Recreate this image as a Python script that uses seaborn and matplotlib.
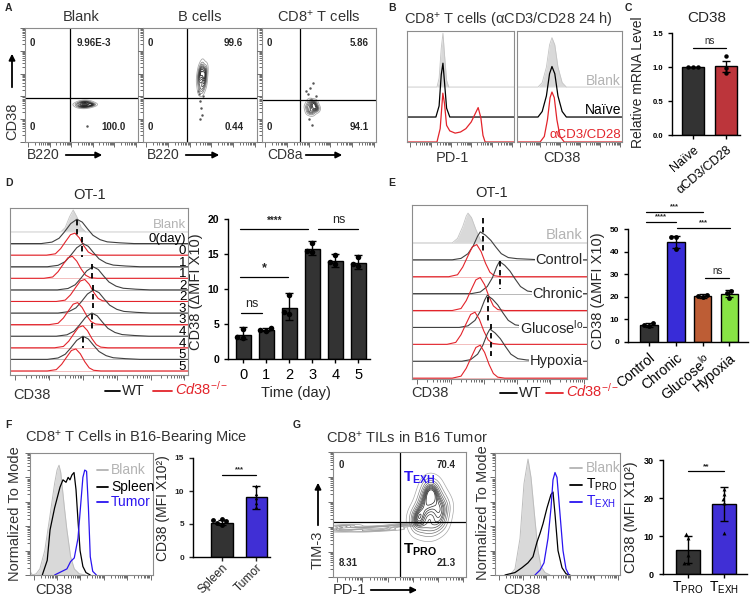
import matplotlib
matplotlib.use("Agg")
import matplotlib.pyplot as plt
from matplotlib.patches import FancyArrowPatch
from matplotlib.lines import Line2D
import numpy as np
import pandas as pd
import seaborn as sns

# ---------------- values ----------------
# A: flow contour plots (units = fraction of each plot)
a_titles = ["Blank", "B cells", "CD8$^{+}$ T cells"]
a_xnames = ["B220", "B220", "CD8a"]
a_quad_top = ["9.96E-3", "99.6", "5.86"]
a_quad_bottom = ["100.0", "0.44", "94.1"]
a_gate_x = [0.40, 0.39, 0.33]
a_gate_y = [0.39, 0.39, 0.37]
a_blob_x = [[0.47, 0.50, 0.53, 0.56, 0.59, 0.49, 0.52, 0.55, 0.58],
            [0.50, 0.52, 0.54, 0.49, 0.51, 0.53, 0.55, 0.52, 0.50, 0.54],
            [0.40, 0.44, 0.48, 0.42, 0.46, 0.44, 0.41, 0.47, 0.45]]
a_blob_y = [[0.33, 0.345, 0.35, 0.345, 0.33, 0.315, 0.31, 0.315, 0.325],
            [0.48, 0.47, 0.52, 0.55, 0.58, 0.60, 0.63, 0.66, 0.62, 0.57],
            [0.31, 0.30, 0.29, 0.35, 0.34, 0.26, 0.27, 0.30, 0.33]]
a_dot_x = [[0.55], [0.49, 0.50, 0.51, 0.52, 0.50, 0.53, 0.48],
           [0.40, 0.42, 0.45, 0.43, 0.47, 0.41, 0.44, 0.39]]
a_dot_y = [[0.14], [0.42, 0.36, 0.30, 0.24, 0.20, 0.40, 0.45],
           [0.42, 0.47, 0.52, 0.38, 0.40, 0.20, 0.15, 0.45]]

# B: histograms (rows: Blank, Naive, aCD3/CD28)
b_labels = ["Blank", "Naïve", "αCD3/CD28"]
b_base = [0.495, 0.225, 0.0]
b1_x = [[0.28, 0.30, 0.32, 0.336, 0.35, 0.37, 0.39],
        [0.27, 0.30, 0.32, 0.336, 0.35, 0.37, 0.40],
        [0.28, 0.31, 0.335, 0.35, 0.37, 0.40, 0.45, 0.50, 0.55, 0.60, 0.64, 0.665, 0.69, 0.71, 0.73]]
b1_y = [[0, 0.08, 0.35, 0.485, 0.30, 0.06, 0],
        [0, 0.10, 0.38, 0.485, 0.32, 0.08, 0],
        [0, 0.12, 0.44, 0.35, 0.15, 0.10, 0.08, 0.09, 0.12, 0.18, 0.26, 0.31, 0.22, 0.06, 0]]
b2_x = [[0.20, 0.24, 0.28, 0.31, 0.333, 0.36, 0.39, 0.43, 0.47],
        [0.20, 0.24, 0.28, 0.31, 0.333, 0.36, 0.39, 0.43, 0.47],
        [0.22, 0.26, 0.29, 0.315, 0.333, 0.355, 0.38, 0.41, 0.45]]
b2_y = [[0, 0.04, 0.18, 0.38, 0.445, 0.38, 0.18, 0.04, 0],
        [0, 0.05, 0.19, 0.39, 0.455, 0.39, 0.19, 0.05, 0],
        [0, 0.05, 0.20, 0.40, 0.45, 0.40, 0.20, 0.05, 0]]

# C: relative mRNA
c_cats = ["Naïve", "αCD3/CD28"]
c_means = [1.0, 1.01]
c_lo = [0.995, 0.93]
c_hi = [1.005, 1.09]
c_pts = [[1.0, 1.0, 1.0], [1.16, 0.99, 0.91]]

# D: OT-1 time course histograms (row 0 = Blank, then WT/KO per day)
d_row_labels = ["Blank", "0(day)", "0", "1", "1", "2", "2", "3", "3", "4", "4", "5", "5"]
d_peak = [0.355, 0.376, 0.365, 0.41, 0.35, 0.466, 0.42, 0.47, 0.38, 0.46, 0.41, 0.41, 0.37]
d_height = [1.9, 2.1, 1.9, 2.0, 1.9, 2.0, 1.9, 2.0, 1.9, 2.0, 1.9, 2.0, 1.9]
d_dash_x = [0.376, 0.405, 0.46, 0.466, 0.46, 0.41]
d_dash_top = [-1.0, 0.4, 2.8, 4.6, 7.1, 9.1]
d_dash_bot = [0.4, 2.2, 4.1, 6.6, 8.6, 10.0]
wt_off = [-0.20, -0.14, -0.10, -0.07, -0.035, 0.0, 0.03, 0.06, 0.09, 0.13, 0.17, 0.24, 0.32]
wt_shape = [0.0, 0.06, 0.22, 0.48, 0.82, 1.0, 0.88, 0.60, 0.34, 0.16, 0.07, 0.03, 0.0]
ko_off = [-0.16, -0.11, -0.08, -0.05, -0.025, 0.0, 0.025, 0.05, 0.075, 0.10, 0.14]
ko_shape = [0.0, 0.06, 0.30, 0.65, 0.93, 1.0, 0.78, 0.42, 0.14, 0.03, 0.0]
blank_off = [-0.07, -0.045, -0.02, 0.0, 0.02, 0.045, 0.07]
blank_shape = [0.0, 0.2, 0.7, 1.0, 0.7, 0.2, 0.0]

# D: bars
d_days = ["0", "1", "2", "3", "4", "5"]
d_means = [3.5, 4.2, 7.3, 15.7, 14.0, 13.7]
d_lo = [2.8, 4.0, 5.6, 14.8, 13.2, 12.9]
d_hi = [4.6, 4.5, 9.4, 16.9, 15.0, 14.8]
d_pts = [[4.3, 3.2, 3.0], [4.4, 4.2, 4.0], [9.2, 6.7, 6.4],
         [16.6, 15.5, 15.3], [14.8, 13.8, 13.6], [14.6, 13.6, 13.3]]
d_sigs = [(-0.1, 0.83, 6.6, "ns"), (-0.13, 1.96, 11.7, "*"),
          (-0.13, 2.83, 18.6, "****"), (3.26, 5.0, 18.6, "ns")]

# E: conditions histograms
e_labels = ["Control", "Chronic", "Glucose$^{lo}$", "Hypoxia"]
e_blank_peak = 0.32
e_blank_h = 1.76
e_wt_peak = [0.39, 0.50, 0.43, 0.445]
e_wt_h = [1.65, 1.9, 1.9, 1.9]
e_ko_peak = [0.37, 0.39, 0.36, 0.39]
e_ko_h = [1.9, 1.95, 1.9, 1.95]
e_dash_x = [0.405, 0.50, 0.435, 0.45]
e_dash_top = [-1.47, 1.1, 3.2, 4.8]
e_dash_bot = [0.53, 2.7, 4.7, 6.7]
ewt_off = [-0.16, -0.11, -0.07, -0.04, -0.015, 0.0, 0.03, 0.06, 0.09, 0.12, 0.16, 0.21, 0.28, 0.34]
ewt_shape = [0.0, 0.05, 0.22, 0.50, 0.85, 1.0, 0.88, 0.70, 0.45, 0.22, 0.08, 0.04, 0.02, 0.0]
eblank_off = [-0.09, -0.06, -0.03, -0.01, 0.0, 0.02, 0.045, 0.07, 0.09]
eblank_shape = [0.0, 0.15, 0.55, 0.9, 1.0, 0.85, 0.45, 0.12, 0.0]

# E: bars
e_means = [7.5, 44.3, 20.3, 21.2]
e_lo = [6.8, 41.5, 19.5, 19.7]
e_hi = [8.2, 47.0, 21.1, 22.8]
e_pts = [[8.5, 7.6, 7.2], [46.6, 46.3, 41.0], [21.0, 20.4, 20.0], [22.5, 21.5, 19.6]]
e_sigs = [(-0.1, 1.0, 53.0, "****"), (-0.1, 2.0, 57.5, "***"),
          (1.05, 3.03, 50.5, "***"), (2.1, 3.0, 28.5, "ns")]

# F: histogram + bars
f_blank_x = [0.0, 0.02, 0.05, 0.08, 0.12, 0.16, 0.20, 0.22, 0.236, 0.25, 0.28, 0.30, 0.33, 0.36, 0.40, 0.45]
f_blank_y = [0.03, 0.0, 0.01, 0.05, 0.20, 0.47, 0.75, 0.86, 0.90, 0.84, 0.55, 0.37, 0.15, 0.05, 0.01, 0.0]
f_spleen_x = [0.10, 0.14, 0.163, 0.20, 0.244, 0.268, 0.293, 0.31, 0.325, 0.341, 0.358, 0.374, 0.39, 0.407, 0.43, 0.455, 0.49]
f_spleen_y = [0.0, 0.12, 0.37, 0.55, 0.72, 0.78, 0.76, 0.80, 0.78, 0.82, 0.84, 0.70, 0.45, 0.20, 0.07, 0.02, 0.0]
f_tumor_x = [0.20, 0.30, 0.33, 0.36, 0.39, 0.41, 0.43, 0.445, 0.46, 0.475, 0.49, 0.51, 0.54]
f_tumor_y = [0.0, 0.05, 0.11, 0.14, 0.30, 0.55, 0.80, 0.86, 0.85, 0.55, 0.15, 0.03, 0.0]
f_cats = ["Spleen", "Tumor"]
f_means = [5.2, 9.1]
f_lo = [4.8, 7.3]
f_hi = [5.6, 10.7]
f_spleen_pts = [5.6, 5.4, 5.1, 5.8, 4.9]
f_tumor_pts = [10.7, 9.6, 8.9, 8.2, 7.6]

# G: contour, histogram, bars
g_blob_x = [0.64, 0.70, 0.76, 0.82, 0.66, 0.72, 0.78, 0.84, 0.68, 0.74, 0.80, 0.71, 0.76, 0.62]
g_blob_y = [0.42, 0.40, 0.40, 0.44, 0.52, 0.54, 0.52, 0.55, 0.62, 0.64, 0.62, 0.72, 0.70, 0.48]
g_tail_x = [0.04, 0.06, 0.09, 0.12, 0.09, 0.18, 0.26, 0.34, 0.42, 0.50, 0.56, 0.30, 0.40]
g_tail_y = [0.38, 0.40, 0.37, 0.39, 0.41, 0.39, 0.37, 0.40, 0.38, 0.41, 0.42, 0.385, 0.395]
g_blank_x = [0.12, 0.16, 0.20, 0.232, 0.264, 0.288, 0.32, 0.344, 0.368, 0.40, 0.44]
g_blank_y = [0.0, 0.05, 0.30, 0.75, 0.95, 0.80, 0.45, 0.20, 0.07, 0.02, 0.0]
g_pro_x = [0.08, 0.16, 0.216, 0.264, 0.304, 0.336, 0.36, 0.384, 0.416, 0.448, 0.464, 0.48, 0.504, 0.536, 0.568, 0.60]
g_pro_y = [0.0, 0.02, 0.06, 0.10, 0.15, 0.27, 0.34, 0.42, 0.55, 0.66, 0.68, 0.50, 0.20, 0.06, 0.01, 0.0]
g_exh_x = [0.32, 0.36, 0.392, 0.424, 0.448, 0.464, 0.48, 0.496, 0.52, 0.544, 0.568, 0.592]
g_exh_y = [0.0, 0.04, 0.10, 0.30, 0.55, 0.78, 0.84, 0.80, 0.50, 0.20, 0.05, 0.0]
g_cats = ["T$_{PRO}$", "T$_{EXH}$"]
g_means = [6.4, 18.4]
g_lo = [3.0, 14.0]
g_hi = [10.0, 22.8]
g_pts = [[10.5, 9.6, 5.0, 3.0, 3.0], [22.5, 19.8, 18.8, 10.8, 21.0]]

# ---------------- style ----------------
sns.set_theme(style="white")
plt.rcParams["font.family"] = ["Liberation Sans", "DejaVu Sans"]
plt.rcParams["mathtext.fontset"] = "custom"
plt.rcParams["mathtext.rm"] = "Liberation Sans"
plt.rcParams["mathtext.it"] = "Liberation Sans:italic"
plt.rcParams["mathtext.bf"] = "Liberation Sans:bold"
plt.rcParams["mathtext.default"] = "regular"

GRAY_FILL = "#d9d9d9"
RED = "#e3242b"
BLUE = "#2a14f0"
DARK = "#333333"
KO_LABEL = r"$\mathit{Cd38}^{\mathit{-/-}}$"

W, H = 750, 596
fig = plt.figure(figsize=(7.5, 5.96), dpi=100)


def place(x0, y0, x1, y1):
    return fig.add_axes([x0 / W, 1 - y1 / H, (x1 - x0) / W, (y1 - y0) / H])


def put(x, y, s, **kw):
    fig.text(x / W, 1 - y / H, s, **kw)


def fline(x0, x1, y, color):
    fig.add_artist(Line2D([x0 / W, x1 / W], [1 - y / H, 1 - y / H], color=color, lw=1.3))


def farrow(x0, y0, x1, y1):
    fig.add_artist(FancyArrowPatch((x0 / W, 1 - y0 / H), (x1 / W, 1 - y1 / H),
                                   transform=fig.transFigure, arrowstyle="-|>",
                                   mutation_scale=9, lw=1.3, color="black"))


def flow_box(ax, left=False):
    ax.set_xlim(0, 1)
    for s in ax.spines.values():
        s.set_color("#8c8c8c")
        s.set_linewidth(0.8)
    major = list(np.arange(0.03, 1.0, 0.19))
    minor = [m + 0.19 * np.log10(k) for m in major for k in range(2, 10) if m + 0.19 * np.log10(k) < 1]
    ax.set_xticks(major)
    ax.set_xticks(minor, minor=True)
    ax.tick_params(axis="x", which="both", bottom=True, direction="out", length=2,
                   width=0.6, colors="#555555", labelbottom=False)
    ax.tick_params(axis="x", which="major", length=3.5)
    if left:
        lo, hi = ax.get_ylim()
        ax.set_yticks(list(np.linspace(lo, hi, 6)))
        ax.set_yticks([lo + (hi - lo) * (m / 5 + 0.2 * np.log10(k)) for m in range(5) for k in range(2, 10)], minor=True)
        ax.tick_params(axis="y", which="both", left=True, direction="out", length=2,
                       width=0.6, colors="#555555", labelleft=False)
        ax.tick_params(axis="y", which="major", length=3.5)
    else:
        ax.set_yticks([])
    ax.set_xlabel("")
    ax.set_ylabel("")


def bars(ax, cats, means, lo, hi, pts, colors, marker="o", msize=3.5):
    sns.barplot(x=cats, y=means, hue=cats, palette=colors, legend=False, width=0.65,
                edgecolor="black", linewidth=1.0, errorbar=None, ax=ax)
    xs = np.arange(len(cats))
    m = np.array(means)
    ax.errorbar(xs, m, yerr=[m - np.array(lo), np.array(hi) - m], fmt="none",
                ecolor="black", elinewidth=1.0, capsize=3, capthick=1.0, zorder=4)
    long = pd.DataFrame({"cat": [c for c, p in zip(cats, pts) for _ in p],
                         "val": [v for p in pts for v in p]})
    sns.swarmplot(data=long, x="cat", y="val", order=cats, color="black",
                  marker=marker, size=msize, ax=ax, zorder=5)
    ax.set_xlabel("")
    ax.set_ylabel("")
    for s in ["top", "right"]:
        ax.spines[s].set_visible(False)
    for s in ["left", "bottom"]:
        ax.spines[s].set_color("black")
        ax.spines[s].set_linewidth(1.0)
    ax.tick_params(axis="both", which="major", direction="out", length=3, width=1,
                   left=True, bottom=True, colors="black")


def sig(ax, x0, x1, y, txt, fs, dy):
    ax.plot([x0, x1], [y, y], color="black", lw=0.9, clip_on=False)
    ax.text((x0 + x1) / 2, y + dy, txt, ha="center", va="bottom", fontsize=fs,
            fontweight="bold" if "*" in txt else "normal", clip_on=False)


def ridge(ax, peak, h, row, off, shape, color, fill=False, base_color=None):
    xs = [0.0] + [peak + o for o in off] + [1.0]
    ys = [row] + [row - h * s for s in shape] + [row]
    if fill:
        ax.fill_between(xs, ys, row, color=GRAY_FILL, lw=0)
        ax.plot(xs, ys, color="#c4c4c4", lw=0.6)
    else:
        ax.plot([0, 1], [row, row], color=base_color, lw=0.7)
        sns.lineplot(x=xs, y=ys, color=color, lw=0.8, ax=ax, sort=False, estimator=None)


# ---------------- panel A ----------------
a_boxes = [(25, 28, 138, 142), (143, 28, 257, 142), (262, 28, 376, 142)]
a_top_r = [0.76, 0.88, 0.94]
a_bot_r = [0.89, 0.88, 0.94]
cont_cmap = sns.blend_palette(["#a8a8a8", "#111111"], as_cmap=True)
for i, box in enumerate(a_boxes):
    ax = place(*box)
    sns.kdeplot(x=a_blob_x[i], y=a_blob_y[i], levels=9, thresh=0.06, cmap=cont_cmap,
                linewidths=0.6, ax=ax)
    ax.scatter(a_dot_x[i], a_dot_y[i], s=0.6, color="#555555")
    ax.axvline(a_gate_x[i], color="black", lw=0.9)
    ax.axhline(a_gate_y[i], color="black", lw=0.9)
    ax.set_ylim(0, 1)
    flow_box(ax, left=True)
    ax.text(0.04, 0.87, "0", fontsize=7, fontweight="bold", va="center")
    ax.text(0.04, 0.13, "0", fontsize=7, fontweight="bold", va="center")
    ax.text(a_top_r[i], 0.87, a_quad_top[i], fontsize=7, fontweight="bold", va="center", ha="right")
    ax.text(a_bot_r[i], 0.13, a_quad_bottom[i], fontsize=7, fontweight="bold", va="center", ha="right")
    put((box[0] + box[2]) / 2, 17, a_titles[i], ha="center", va="center", fontsize=10.5, color="#333333")
a_xname_pos = [(27, 63, 105), (147, 183, 222), (267, 303, 345)]
for i, (tx, ax0, ax1) in enumerate(a_xname_pos):
    put(tx, 155, a_xnames[i], ha="left", va="center", fontsize=10, color="#333333")
    farrow(ax0, 155, ax1, 155)
put(12, 121, "CD38", rotation=90, ha="center", va="center", fontsize=10.5, color="#333333")
farrow(12, 90, 12, 51)

# ---------------- panel B ----------------
for j, (box, xs_l, ys_l, xlab) in enumerate([((407, 31, 514, 142), b1_x, b1_y, "PD-1"),
                                              ((517, 31, 622, 142), b2_x, b2_y, "CD38")]):
    ax = place(*box)
    ax.set_ylim(0, 1)
    for k in range(3):
        xs = [0.0] + xs_l[k] + [1.0]
        ys = [b_base[k]] + [b_base[k] + v for v in ys_l[k]] + [b_base[k]]
        if k == 0:
            ax.fill_between(xs, ys, b_base[k], color=GRAY_FILL, lw=0)
            ax.plot(xs, ys, color="#c4c4c4", lw=0.6)
        else:
            sns.lineplot(x=xs, y=ys, color=["black", RED][k - 1], lw=0.9, ax=ax,
                         sort=False, estimator=None)
    flow_box(ax)
    put((box[0] + box[2]) / 2 - 8, 158, xlab, ha="center", va="center", fontsize=10.5, color="#333333")
    if j == 1:
        for k, (lab, col, yy) in enumerate(zip(b_labels, ["#b3b3b3", "black", RED], [0.55, 0.29, 0.06])):
            ax.text(0.99, yy, lab, ha="right", va="center", fontsize=10 if k < 2 else 9.5, color=col)
put(508, 20, "CD8$^{+}$ T cells (αCD3/CD28 24 h)", ha="center", va="center", fontsize=10.5, color="#333333")

# ---------------- panel C ----------------
ax = place(672, 33, 740, 135)
bars(ax, c_cats, c_means, c_lo, c_hi, c_pts, [DARK, "#d21f26"], msize=3.2)
ax.set_xlim(-0.64, 1.42)
ax.set_ylim(0, 1.5)
ax.set_yticks([0, 0.5, 1.0, 1.5], ["0.0", "0.5", "1.0", "1.5"], fontsize=5.5, fontweight="bold")
ax.set_xticks([0, 1], c_cats, rotation=40, ha="right", rotation_mode="anchor", fontsize=9)
sig(ax, 0, 1, 1.28, "ns", 7, 0.03)
ax.set_ylabel("Relative mRNA Level", fontsize=10)
ax.yaxis.set_label_coords((645 - 672) / 68, (135 - 82) / 102)
put(707, 18, "CD38", ha="center", va="center", fontsize=11)

# ---------------- panel D ----------------
ax = place(10, 208, 188, 375)
ax.set_ylim(12.35, -2.07)
ridge(ax, d_peak[0], d_height[0], 0, blank_off, blank_shape, None, fill=True)
for r in range(1, 13):
    if r % 2 == 1:
        ridge(ax, d_peak[r], d_height[r], r, wt_off, wt_shape, "#404040", base_color="#b8b8b8")
    else:
        ridge(ax, d_peak[r], d_height[r], r, ko_off, ko_shape, RED, base_color="#f3bcbc")
for x, y0, y1 in zip(d_dash_x, d_dash_top, d_dash_bot):
    ax.plot([x, x], [y0, y1], color="black", lw=1.3, ls=(0, (3, 2)))
for r, lab in enumerate(d_row_labels):
    ax.text(0.99, r - (0.35 if r == 0 else 0.1), lab, ha="right", va="baseline",
            fontsize=9.5, color="#b3b3b3" if r == 0 else "black")
flow_box(ax)
put(90, 195, "OT-1", ha="center", va="center", fontsize=10.5)
put(32, 395, "CD38", ha="center", va="center", fontsize=10.5, color="#333333")
fline(105, 120, 391, "black")
put(122, 391, "WT", ha="left", va="center", fontsize=10.5)
fline(153, 172, 391, RED)
put(175, 389, KO_LABEL, ha="left", va="center", fontsize=10.5, color=RED)

ax = place(228, 219, 370, 359)
bars(ax, d_days, d_means, d_lo, d_hi, d_pts, [DARK] * 6, msize=4)
ax.set_xlim(-0.65, 5.5)
ax.set_ylim(0, 20)
ax.set_yticks([0, 5, 10, 15, 20], ["0", "5", "10", "15", "20"], fontsize=7.5, fontweight="bold")
ax.set_xticks(range(6), d_days, fontsize=10.5)
for x0, x1, y, t in d_sigs:
    sig(ax, x0, x1, y, t, 9 if t in ("ns", "*") else 7, 0.4)
ax.set_ylabel("CD38 (ΔMFI X10)", fontsize=10.5)
ax.yaxis.set_label_coords((203 - 228) / 142, (359 - 292) / 140)
put(296, 393, "Time (day)", ha="center", va="center", fontsize=10.5)

# ---------------- panel E ----------------
ax = place(412, 205, 587, 379)
ax.set_ylim(8.05, -2.24)
ridge(ax, e_blank_peak, e_blank_h, 0, eblank_off, eblank_shape, None, fill=True)
ax.plot([0, 1], [0, 0], color="#e0e0e0", lw=0.7)
for k in range(4):
    ridge(ax, e_wt_peak[k], e_wt_h[k], 2 * k + 1, ewt_off, ewt_shape, "#404040", base_color="#b8b8b8")
    ridge(ax, e_ko_peak[k], e_ko_h[k], 2 * k + 2, ko_off, ko_shape, RED, base_color="#f3bcbc")
    ax.text(0.977, 2 * k + 1, e_labels[k], ha="right", va="center", fontsize=10.5,
            bbox=dict(facecolor="white", edgecolor="none", pad=0.3))
for x, y0, y1 in zip(e_dash_x, e_dash_top, e_dash_bot):
    ax.plot([x, x], [y0, y1], color="black", lw=1.3, ls=(0, (3, 2)))
ax.text(0.977, -0.47, "Blank", ha="right", va="center", fontsize=10.5, color="#b3b3b3")
flow_box(ax)
put(492, 193, "OT-1", ha="center", va="center", fontsize=10.5)
put(430, 393, "CD38", ha="center", va="center", fontsize=10.5, color="#333333")
fline(500, 517, 393, "black")
put(519, 393, "WT", ha="left", va="center", fontsize=10.5)
fline(546, 563, 393, RED)
put(566, 391, KO_LABEL, ha="left", va="center", fontsize=10.5, color=RED)

ax = place(628, 229, 748, 342)
bars(ax, e_labels, e_means, e_lo, e_hi, e_pts, [DARK, "#1f0ff5", "#d4531e", "#84ff2a"], msize=3.5)
ax.set_xlim(-0.79, 3.7)
ax.set_ylim(0, 50)
ax.set_yticks([0, 10, 20, 30, 40, 50], ["0", "10", "20", "30", "40", "50"], fontsize=6, fontweight="bold")
ax.set_xticks(range(4), e_labels, rotation=40, ha="right", rotation_mode="anchor", fontsize=10)
for x0, x1, y, t in e_sigs:
    sig(ax, x0, x1, y, t, 7 if t == "ns" else 5.5, 0.8)
ax.set_ylabel("CD38 (ΔMFI X10)", fontsize=10.5)
ax.yaxis.set_label_coords((605 - 628) / 120, (342 - 291) / 113)

# ---------------- panel F ----------------
ax = place(30, 453, 153, 575)
ax.set_ylim(0, 1)
ax.fill_between(f_blank_x, f_blank_y, 0, color=GRAY_FILL, lw=0)
ax.plot(f_blank_x, f_blank_y, color="#bdbdbd", lw=0.7)
sns.lineplot(x=f_spleen_x, y=f_spleen_y, color="black", lw=0.9, ax=ax, sort=False, estimator=None)
sns.lineplot(x=f_tumor_x, y=f_tumor_y, color=BLUE, lw=0.9, ax=ax, sort=False, estimator=None)
flow_box(ax, left=True)
for lab, col, yy in zip(["Blank", "Spleen", "Tumor"], ["#b3b3b3", "black", BLUE], [470, 487, 502]):
    fline(97, 108, yy, col)
    put(111, yy, lab, ha="left", va="center", fontsize=10, color=col)
put(136, 438, "CD8$^{+}$ T Cells in B16-Bearing Mice", ha="center", va="center", fontsize=10.5, color="#333333")
put(15, 514, "Normalized To Mode", rotation=90, ha="center", va="center", fontsize=10.5, color="#333333")
put(54, 590, "CD38", ha="center", va="center", fontsize=10.5, color="#333333")

ax = place(193, 458, 270, 557)
sns.barplot(x=f_cats, y=f_means, hue=f_cats, palette=[DARK, BLUE], legend=False, width=0.62,
            edgecolor="black", linewidth=1.0, errorbar=None, ax=ax)
fm = np.array(f_means)
ax.errorbar([0, 1], fm, yerr=[fm - np.array(f_lo), np.array(f_hi) - fm], fmt="none",
            ecolor="black", elinewidth=1.0, capsize=3, capthick=1.0, zorder=4)
sns.swarmplot(x=[0] * len(f_spleen_pts), y=f_spleen_pts, color="black", size=3.5,
              native_scale=True, ax=ax, zorder=5)
sns.swarmplot(x=[1] * len(f_tumor_pts), y=f_tumor_pts, color="black", marker="^", size=2.5,
              native_scale=True, ax=ax, zorder=5)
for s in ["top", "right"]:
    ax.spines[s].set_visible(False)
for s in ["left", "bottom"]:
    ax.spines[s].set_color("black")
    ax.spines[s].set_linewidth(1.0)
ax.tick_params(axis="both", direction="out", length=3, width=1, left=True, bottom=True)
ax.tick_params(axis="x", pad=0.5)
ax.set_xlim(-0.85, 1.4)
ax.set_ylim(0, 15)
ax.set_yticks([0, 5, 10, 15], ["0", "5", "10", "15"], fontsize=6, fontweight="bold")
ax.set_xticks([0, 1], f_cats, rotation=45, ha="right", rotation_mode="anchor", fontsize=8.5)
sig(ax, 0, 1, 12.5, "***", 5.5, 0.2)
ax.set_ylabel("CD38 (MFI X10²)", fontsize=10)
ax.yaxis.set_label_coords((170 - 193) / 77, (557 - 508) / 99)

# ---------------- panel G ----------------
ax = place(333, 452, 466, 577)
sns.kdeplot(x=g_tail_x, y=g_tail_y, levels=6, thresh=0.08, bw_adjust=0.7,
            color="#9a9a9a", linewidths=0.5, ax=ax)
sns.kdeplot(x=g_blob_x, y=g_blob_y, levels=12, thresh=0.04, bw_adjust=0.9,
            cmap=cont_cmap, linewidths=0.5, ax=ax)
ax.axvline(0.50, color="black", lw=0.9)
ax.axhline(0.44, color="black", lw=0.9)
ax.set_ylim(0, 1)
flow_box(ax, left=True)
ax.text(0.04, 0.90, "0", fontsize=7, fontweight="bold", va="center")
ax.text(0.92, 0.90, "70.4", fontsize=7, fontweight="bold", va="center", ha="right")
ax.text(0.04, 0.11, "8.31", fontsize=7, fontweight="bold", va="center")
ax.text(0.92, 0.11, "21.3", fontsize=7, fontweight="bold", va="center", ha="right")
ax.text(0.53, 0.79, r"$\mathbf{T}_{\mathbf{EXH}}$", fontsize=11, color=BLUE, va="center")
ax.text(0.53, 0.22, r"$\mathbf{T}_{\mathbf{PRO}}$", fontsize=11, color="black", va="center")
put(407, 438, "CD8$^{+}$ TILs in B16 Tumor", ha="center", va="center", fontsize=10.5, color="#333333")
put(318, 550, "TIM-3", rotation=90, ha="center", va="center", fontsize=10.5, color="#333333")
farrow(318, 528, 318, 480)
put(333, 590, "PD-1", ha="left", va="center", fontsize=10.5, color="#333333")
farrow(368, 590, 420, 590)

ax = place(495, 453, 620, 575)
ax.set_ylim(0, 1)
ax.fill_between(g_blank_x, g_blank_y, 0, color=GRAY_FILL, lw=0)
ax.plot(g_blank_x, g_blank_y, color="#bdbdbd", lw=0.7)
sns.lineplot(x=g_pro_x, y=g_pro_y, color="black", lw=0.9, ax=ax, sort=False, estimator=None)
sns.lineplot(x=g_exh_x, y=g_exh_y, color=BLUE, lw=0.9, ax=ax, sort=False, estimator=None)
flow_box(ax, left=True)
for lab, col, yy in zip(["Blank", "T$_{PRO}$", "T$_{EXH}$"], ["#b3b3b3", "black", BLUE], [468, 485, 502]):
    fline(570, 582, yy, col)
    put(586, yy, lab, ha="left", va="center", fontsize=10, color=col)
put(483, 513, "Normalized To Mode", rotation=90, ha="center", va="center", fontsize=10.5, color="#333333")
put(522, 590, "CD38", ha="center", va="center", fontsize=10.5, color="#333333")

ax = place(663, 460, 747, 574)
bars(ax, g_cats, g_means, g_lo, g_hi, g_pts, [DARK, BLUE], marker="^", msize=2.8)
ax.set_xlim(-0.69, 1.64)
ax.set_ylim(0, 30)
ax.set_yticks([0, 10, 20, 30], ["0", "10", "20", "30"], fontsize=6.5, fontweight="bold")
ax.set_xticks([0, 1], g_cats, fontsize=10)
ax.tick_params(axis="x", pad=1)
sig(ax, 0, 1, 27, "**", 6, 0.4)
ax.set_ylabel("CD38 (MFI X10²)", fontsize=10.5)
ax.yaxis.set_label_coords((638 - 663) / 84, (574 - 517) / 114)

# ---------------- panel letters ----------------
for lab, x, y in [("A", 5, 8), ("B", 388, 8), ("C", 625, 8), ("D", 5, 183),
                  ("E", 388, 183), ("F", 5, 425), ("G", 293, 425)]:
    put(x, y, lab, ha="left", va="center", fontsize=7.5, fontweight="bold")

fig.savefig("out.png", dpi=100)
